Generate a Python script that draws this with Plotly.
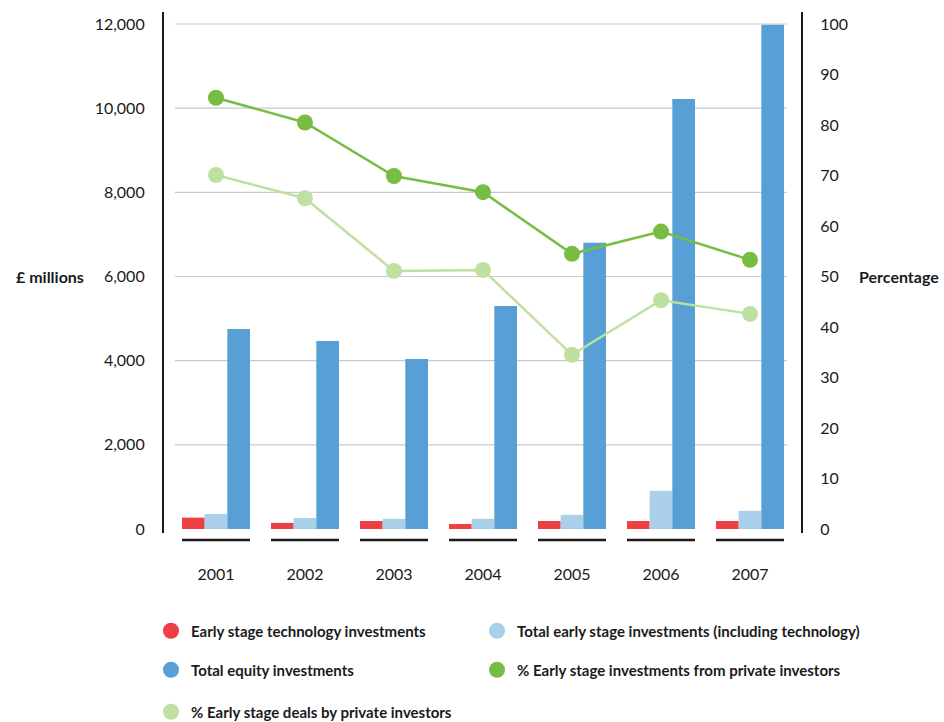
import plotly.graph_objects as go

# ---- data -------------------------------------------------------------
years = ["2001", "2002", "2003", "2004", "2005", "2006", "2007"]

# £ millions (left axis)
early_tech = [270, 145, 190, 120, 190, 190, 190]
early_total = [355, 260, 240, 240, 335, 905, 430]
total_equity = [4750, 4470, 4040, 5300, 6800, 10220, 11980]

# percentages (right axis)
pct_invest_private = [85.4, 80.5, 69.9, 66.7, 54.5, 58.9, 53.3]
pct_deals_private = [70.1, 65.5, 51.1, 51.3, 34.5, 45.3, 42.6]

left_ticks = [0, 2000, 4000, 6000, 8000, 10000, 12000]
right_ticks = [0, 10, 20, 30, 40, 50, 60, 70, 80, 90, 100]

names = [
    "Early stage technology investments",
    "Total early stage investments (including technology)",
    "Total equity investments",
    "% Early stage investments from private investors",
    "% Early stage deals by private investors",
]

# ---- styling ----------------------------------------------------------
RED = "#EE3F44"
LIGHT_BLUE = "#AACFE9"
BLUE = "#579FD4"
GREEN = "#77BD43"
LIGHT_GREEN = "#BEE0A1"
INK = "#1a1a1a"
FONT = "Lato"

W, H = 944, 722
L, R, T, B = 164, 143, 12, 189
PW, PH = W - L - R, H - T - B
BARGAP = 0.236


def px_x(p):
    return (p - L) / PW


def px_y(p):
    return (H - B - p) / PH


fig = go.Figure()

for vals, color, name in [
    (early_tech, RED, names[0]),
    (early_total, LIGHT_BLUE, names[1]),
    (total_equity, BLUE, names[2]),
]:
    fig.add_trace(go.Bar(x=years, y=vals, name=name, marker=dict(color=color, line=dict(width=0)),
                         showlegend=False))

for vals, color, name in [
    (pct_invest_private, GREEN, names[3]),
    (pct_deals_private, LIGHT_GREEN, names[4]),
]:
    fig.add_trace(go.Scatter(x=years, y=vals, name=name, yaxis="y2", mode="lines+markers",
                             line=dict(color=color, width=2.5),
                             marker=dict(color=color, size=16), showlegend=False))

# legend: one plain circle entry per key, placed on a two-column grid
legend_keys = ["legend", "legend2", "legend3", "legend4", "legend5"]
legend_colors = [RED, LIGHT_BLUE, BLUE, GREEN, LIGHT_GREEN]
legend_spots = [(151, 631), (477, 631), (151, 670), (477, 670), (151, 712)]
for name, color, key in zip(names, legend_colors, legend_keys):
    fig.add_trace(go.Scatter(x=[None], y=[None], mode="markers", name=name, legend=key,
                             marker=dict(color=color, size=16)))

legend_layout = {}
for key, (lx, ly) in zip(legend_keys, legend_spots):
    legend_layout[key] = dict(orientation="h", x=px_x(lx), xanchor="left",
                              y=px_y(ly), yanchor="middle", bgcolor="rgba(0,0,0,0)",
                              font=dict(family=FONT, size=15, color=INK, weight="bold"))

shapes = []
for v in left_ticks[1:]:
    shapes.append(dict(type="line", xref="paper", yref="y", x0=px_x(175), x1=px_x(787),
                       y0=v, y1=v, line=dict(color="#C9C9C9", width=1.2), layer="below"))
half = (1 - BARGAP) / 2
for i in range(len(years)):
    shapes.append(dict(type="line", xref="x", yref="paper", x0=i - half, x1=i + half,
                       y0=px_y(540), y1=px_y(540), line=dict(color=INK, width=2.5)))

fig.update_layout(
    width=W, height=H,
    margin=dict(l=L, r=R, t=T, b=B, pad=0, autoexpand=False),
    paper_bgcolor="white", plot_bgcolor="white",
    font=dict(family=FONT, size=16, color=INK),
    barmode="group", bargap=BARGAP, bargroupgap=0,
    xaxis=dict(type="category", range=[-0.584, 6.573], showgrid=False, zeroline=False,
               showline=False, ticks="", ticklabelstandoff=30, tickfont=dict(size=16)),
    yaxis=dict(range=[-95.05, 12285], tickvals=left_ticks, tickformat=",", showgrid=False,
               zeroline=False, showline=True, linecolor=INK, linewidth=2.2, ticks="",
               ticklabelstandoff=14, tickfont=dict(size=16)),
    yaxis2=dict(overlaying="y", side="right", range=[-0.792, 102.38], tickvals=right_ticks,
                showgrid=False, zeroline=False, showline=True, linecolor=INK, linewidth=2.2,
                ticks="", ticklabelstandoff=14, tickfont=dict(size=16)),
    shapes=shapes,
    annotations=[
        dict(text="£ millions", xref="paper", yref="paper", x=px_x(86), y=px_y(276),
             xanchor="right", yanchor="middle", showarrow=False,
             font=dict(family=FONT, size=16, color=INK, weight="bold")),
        dict(text="Percentage", xref="paper", yref="paper", x=px_x(857), y=px_y(276),
             xanchor="left", yanchor="middle", showarrow=False,
             font=dict(family=FONT, size=16, color=INK, weight="bold")),
    ],
    **legend_layout,
)

fig.write_html("out.html")
